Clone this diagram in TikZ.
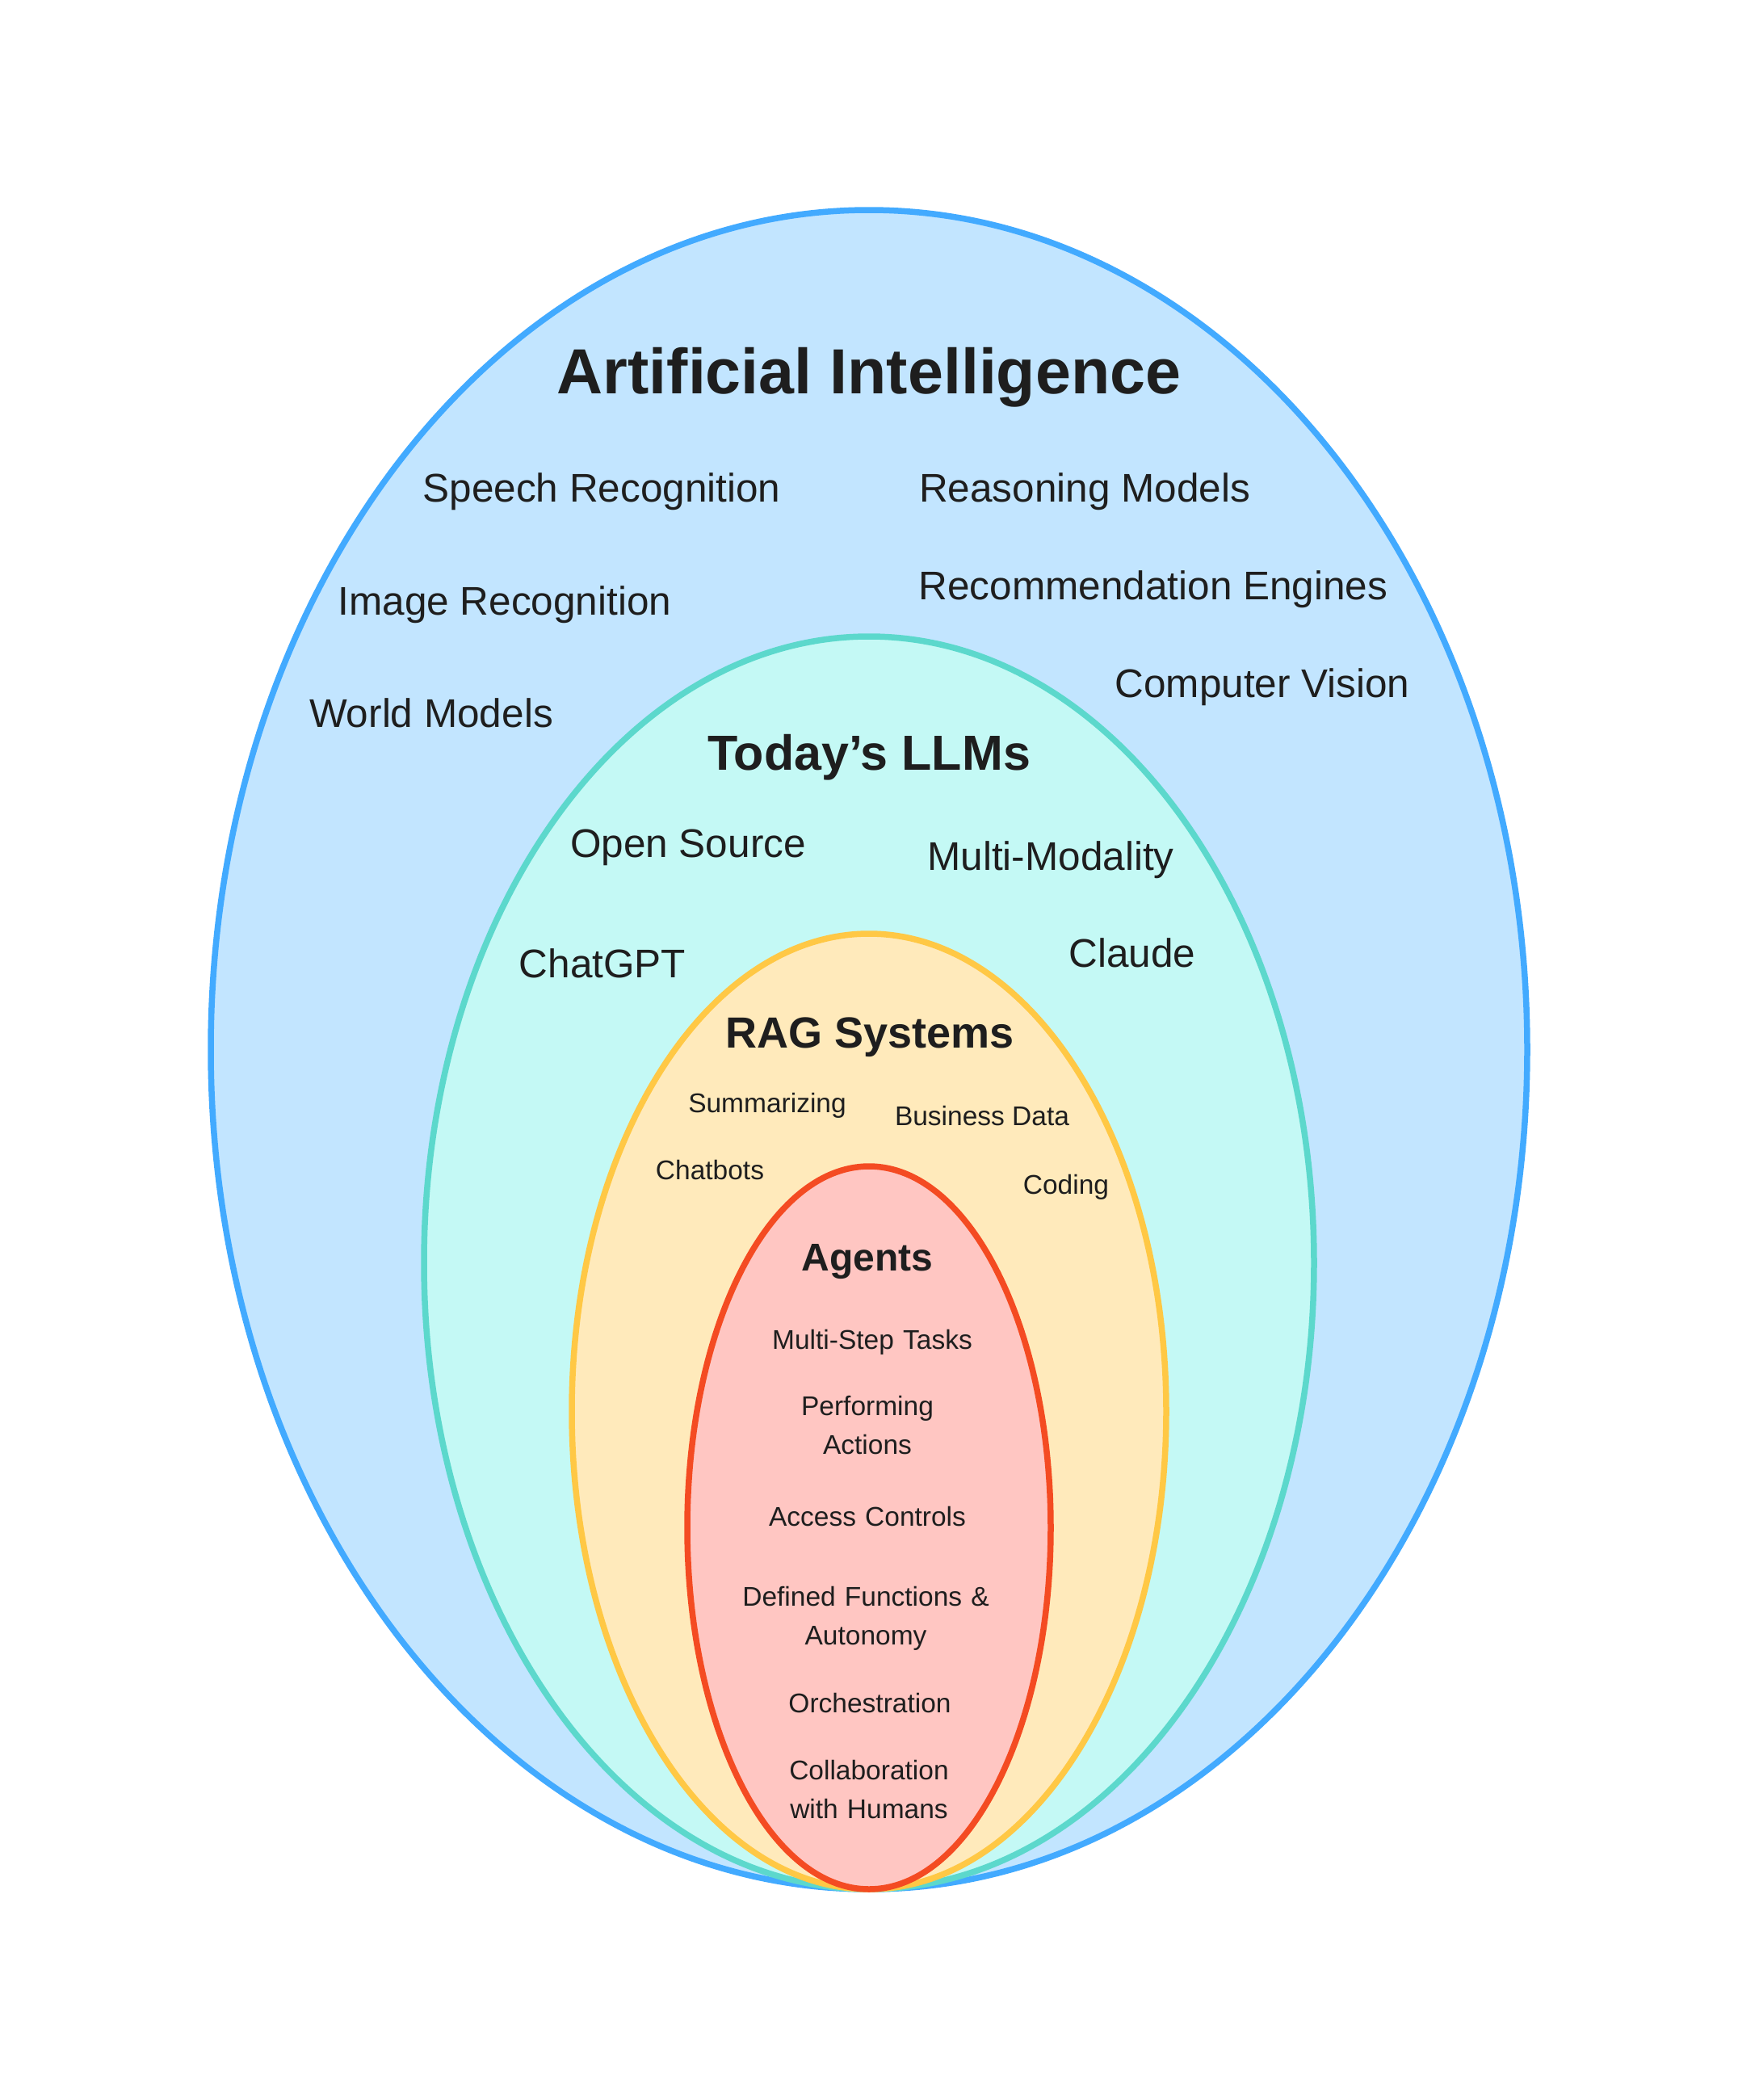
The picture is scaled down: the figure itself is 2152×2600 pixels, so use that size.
\documentclass[tikz,border=0pt]{standalone}
\usepackage{fontspec}
\setmainfont{Liberation Sans}
\usepackage{tikz}

\definecolor{aiLine}{RGB}{66,170,255}
\definecolor{aiFill}{RGB}{194,229,255}
\definecolor{llmLine}{RGB}{92,216,204}
\definecolor{llmFill}{RGB}{196,249,245}
\definecolor{ragLine}{RGB}{255,200,69}
\definecolor{ragFill}{RGB}{255,234,187}
\definecolor{agtLine}{RGB}{244,75,34}
\definecolor{agtFill}{RGB}{255,198,194}
\definecolor{inkText}{RGB}{30,30,30}

\begin{document}
\begin{tikzpicture}[x=1pt,y=-1pt,
	ring/.style={line width=7.5pt},
	title/.style={anchor=base,inner sep=0pt,text=inkText,font=\bfseries\fontsize{#1}{#1}\selectfont},
	biglabel/.style={anchor=base,inner sep=0pt,text=inkText,font=\fontsize{49.5}{58}\selectfont},
	smalllabel/.style={anchor=base,inner sep=0pt,text=inkText,font=\fontsize{33.5}{48}\selectfont},
	agentlabel/.style={smalllabel,text width=420pt,align=center}]
	\useasboundingbox (0,0) rectangle (2152,2600);

	%Shape: Ellipse [Artificial Intelligence]
	\filldraw [ring,draw=aiLine,fill=aiFill] (1076,1299.5) ellipse [x radius=815, y radius=1039.5];
	%Shape: Ellipse [Today's LLMs]
	\filldraw [ring,draw=llmLine,fill=llmFill] (1076,1563.5) ellipse [x radius=551, y radius=775.5];
	%Shape: Ellipse [RAG Systems]
	\filldraw [ring,draw=ragLine,fill=ragFill] (1076,1747.5) ellipse [x radius=368, y radius=591.5];
	%Shape: Ellipse [Agents]
	\filldraw [ring,draw=agtLine,fill=agtFill] (1076,1891.5) ellipse [x radius=225, y radius=447.5];

	% Text Node
	\node [title=79] (ai) at (1076,487) {Artificial Intelligence};
	\node [biglabel] (speech) at (745,621) {Speech Recognition};
	\node [biglabel] (reason) at (1343,621) {Reasoning Models};
	\node [biglabel] (image) at (625,761) {Image Recognition};
	\node [biglabel] (recom) at (1428,742) {Recommendation Engines};
	\node [biglabel] (world) at (534,900) {World Models};
	\node [biglabel] (vision) at (1563,863) {Computer Vision};

	% Text Node
	\node [title=61] (llm) at (1076,953) {Today’s LLMs};
	\node [biglabel] (open) at (852,1061) {Open Source};
	\node [biglabel] (modal) at (1301,1077) {Multi-Modality};
	\node [biglabel] (chatgpt) at (746,1210) {ChatGPT};
	\node [biglabel] (claude) at (1402,1197) {Claude};

	% Text Node
	\node [title=54] (rag) at (1077,1297) {RAG Systems};
	\node [smalllabel] (summ) at (950,1377) {Summarizing};
	\node [smalllabel] (bizdata) at (1216,1393) {Business Data};
	\node [smalllabel] (chatbots) at (879,1460) {Chatbots};
	\node [smalllabel] (coding) at (1320,1478) {Coding};

	% Text Node
	\node [title=48] (agents) at (1074,1573) {Agents};
	\node [agentlabel] (multistep) at (1080,1670) {Multi-Step Tasks};
	\node [agentlabel] (actions) at (1074,1752) {Performing\\Actions};
	\node [agentlabel] (access) at (1074,1889) {Access Controls};
	\node [agentlabel] (functions) at (1072,1988) {Defined Functions \&\\Autonomy};
	\node [agentlabel] (orch) at (1077,2120) {Orchestration};
	\node [agentlabel] (collab) at (1076,2203) {Collaboration\\with Humans};
\end{tikzpicture}
\end{document}
